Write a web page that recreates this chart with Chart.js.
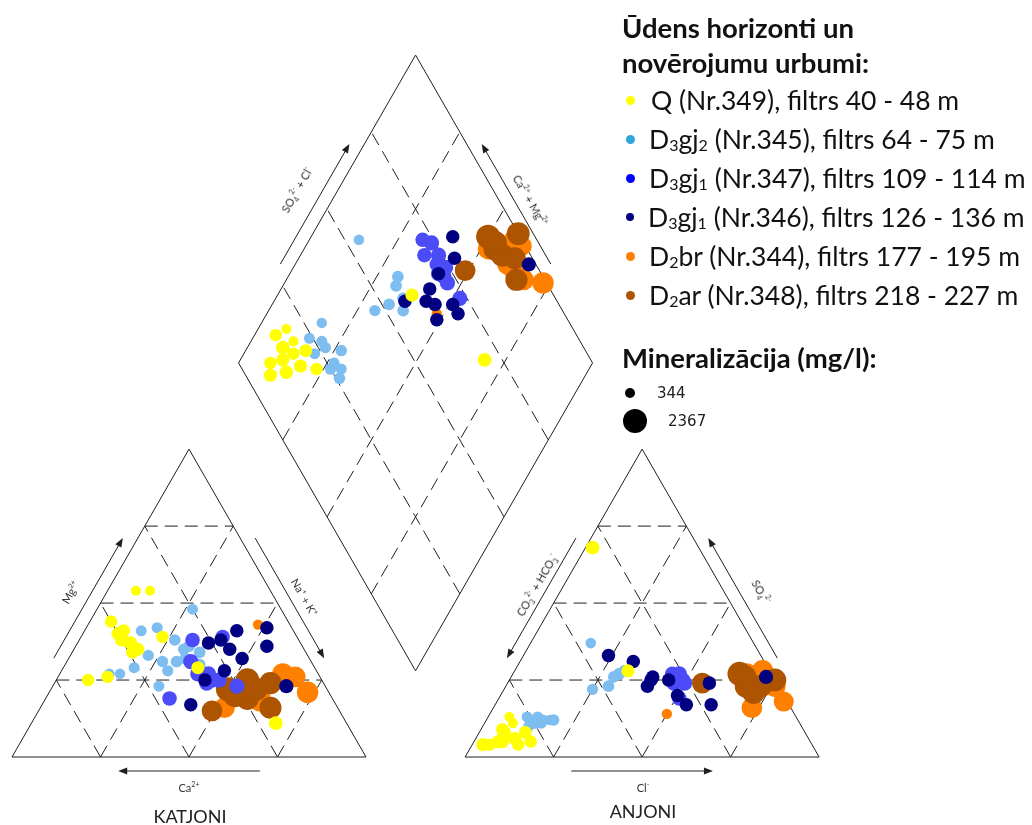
<!DOCTYPE html>
<html>
<head>
<meta charset="utf-8">
<script src="https://cdn.jsdelivr.net/npm/chart.js@4.4.1/dist/chart.umd.min.js"></script>
<style>
  html, body { margin: 0; padding: 0; background: #fff; }
  #wrap { position: relative; width: 1032px; height: 825px; overflow: hidden; font-family: Lato, "Open Sans", sans-serif; color: #111; }
  #piper { position: absolute; left: 0; top: 0; }
  .axis-label { position: absolute; transform: translate(-50%, -50%) rotate(var(--rot, 0deg)); white-space: nowrap; font-size: 11px; color: #333; }
  .axis-label sup, .axis-label sub { font-size: 7px; }
  .panel-title { position: absolute; transform: translate(-50%, -50%); font-size: 18px; color: #222; }
  .legend-title { position: absolute; left: 622px; font-weight: 700; font-size: 27.5px; line-height: 35px; white-space: nowrap; }
  .legend-item { position: absolute; left: 626px; transform: translateY(-50%); font-size: 26.5px; white-space: nowrap; display: flex; align-items: center; }
  .legend-item small { font-size: 16px; position: relative; top: 2px; }
  .legend-dot { display: inline-block; border-radius: 50%; }
  .size-item { position: absolute; transform: translateY(-50%); font-family: "DejaVu Sans", sans-serif; font-size: 15px; color: #222; }
</style>
</head>
<body>
<div id="wrap">
  <canvas id="piper" width="1032" height="825"></canvas>
</div>
<script>
// Piper diagram, values in % of meq/l.
// One row per sample: [Mg, Na+K, SO4, Cl, mineralization mg/l]
// (Ca = 100 - Mg - NaK, HCO3 + CO3 = 100 - SO4 - Cl)
const wellQ349 = [
  [54, 8, 11, 8, 344], [54, 12, 13, 6, 344], [44, 6, 9, 6, 700], [40, 10, 8, 7, 850],
  [41, 11, 4, 3, 800], [37, 15, 5, 7, 850], [35, 18, 6, 11, 800], [34, 17, 8, 13, 750],
  [39, 23, 5, 16, 700], [25, 9, 4, 5, 700], [26, 14, 4, 13, 700], [38, 12, 5, 8, 800],
  [29, 38, 28, 32, 800], [11, 69, 68, 2, 900],
];
const wellD3gj2_345 = [
  [27, 14, 37, 17, 430], [48, 27, 12, 15, 480], [41, 16, 13, 11, 480], [42, 20, 13, 14, 500],
  [33, 22, 11, 16, 520], [29, 20, 10, 13, 480], [27, 17, 12, 18, 420], [38, 27, 12, 19, 560],
  [31, 27, 11, 14, 560], [23, 30, 12, 16, 500], [35, 31, 12, 14, 560], [32, 33, 23, 29, 600],
  [36, 32, 27, 30, 600], [31, 31, 28, 31, 600], [28, 30, 22, 25, 520], [34, 36, 27, 30, 600],
  [30, 38, 26, 29, 600],
];
const wellD3gj1_347 = [
  [38, 32, 27, 45, 1000], [39, 40, 26, 46, 1000], [31, 35, 27, 47, 1100], [27, 39, 25, 49, 1100],
  [27, 42, 24, 47, 1100], [25, 44, 26, 46, 1100], [24, 43, 24, 50, 1100], [25, 46, 25, 47, 1100],
  [19, 35, 19, 51, 1000], [23, 52, 25, 48, 1100],
];
const wellD3gj1_346 = [
  [37, 37, 33, 24, 850], [41, 43, 31, 32, 850], [42, 51, 25, 45, 850], [36, 54, 20, 50, 850],
  [32, 49, 23, 40, 850], [28, 46, 25, 40, 850], [25, 42, 26, 40, 850], [17, 42, 17, 54, 850],
  [23, 66, 26, 72, 950], [38, 40, 24, 57, 850], [35, 44, 17, 61, 850],
];
const wellD2br_344 = [
  [43, 48, 14, 50, 400], [27, 63, 27, 66, 2000], [21, 73, 23, 76, 2000], [16, 52, 16, 73, 1900],
  [18, 61, 18, 81, 1800], [22, 58, 28, 70, 2000], [26, 67, 26, 68, 1900], [20, 60, 22, 70, 1900],
];
const wellD2ar_348 = [
  [22, 50, 27, 64, 2367], [25, 54, 23, 68, 2300], [19, 57, 21, 71, 2200], [24, 61, 23, 72, 2100],
  [16, 65, 21, 71, 2100], [15, 49, 24, 55, 1900], [22, 58, 25, 75, 2200], [20, 53, 26, 66, 2300],
];

const wellSamples = [wellQ349, wellD3gj2_345, wellD3gj1_347, wellD3gj1_346, wellD2br_344, wellD2ar_348];
const wellLabels = [
  "Q (Nr.349), filtrs 40 - 48 m",
  "D<small>3</small>gj<small>2</small> (Nr.345), filtrs 64 - 75 m",
  "D<small>3</small>gj<small>1</small> (Nr.347), filtrs 109 - 114 m",
  "D<small>3</small>gj<small>1</small> (Nr.346), filtrs 126 - 136 m",
  "D<small>2</small>br (Nr.344), filtrs 177 - 195 m",
  "D<small>2</small>ar (Nr.348), filtrs 218 - 227 m",
];
const wellColors = ["#ffff00", "#7dbdf0", "#4b4bf7", "#000080", "#ff8000", "#ad5400"];
const legendColors = ["#ffff00", "#2ea7dc", "#0000ff", "#000080", "#ff8000", "#ad5400"];
const drawOrder = [0, 3, 2, 1, 5, 4]; // lower = drawn on top

const sizeLegendValues = [344, 2367];
const gridSteps = [25, 50, 75];

// geometry of the diagram (triangle side = 100 units)
const SIDE = 100;
const GAP = 28;
const TRI_H = SIDE * Math.sqrt(3) / 2;

function cationXY(mg, nak) {
  return { x: nak + mg / 2, y: mg * TRI_H / SIDE };
}

function anionXY(so4, cl) {
  return { x: SIDE + GAP + cl + so4 / 2, y: so4 * TRI_H / SIDE };
}

function diamondXY(camg, sc) {
  const bx = SIDE + GAP / 2;
  const by = GAP * TRI_H / SIDE;
  return { x: bx + (sc - camg) / 2, y: by + (sc + camg) * TRI_H / SIDE };
}

function radiusFor(tds) {
  return 5 + (tds - 344) * 7 / (2367 - 344);
}

function samplePoints(rows) {
  const points = [];
  rows.forEach(([mg, nak, so4, cl, tds]) => {
    points.push({ ...cationXY(mg, nak), tds });
    points.push({ ...anionXY(so4, cl), tds });
    points.push({ ...diamondXY(100 - nak, so4 + cl), tds });
  });
  return points;
}

const frameLines = [
  // outlines
  [cationXY(0, 0), cationXY(0, 100)], [cationXY(0, 100), cationXY(100, 0)], [cationXY(100, 0), cationXY(0, 0)],
  [anionXY(0, 0), anionXY(0, 100)], [anionXY(0, 100), anionXY(100, 0)], [anionXY(100, 0), anionXY(0, 0)],
  [diamondXY(0, 0), diamondXY(100, 0)], [diamondXY(100, 0), diamondXY(100, 100)],
  [diamondXY(100, 100), diamondXY(0, 100)], [diamondXY(0, 100), diamondXY(0, 0)],
];

const gridLines = [];
gridSteps.forEach((k) => {
  gridLines.push([cationXY(k, 0), cationXY(k, 100 - k)]);
  gridLines.push([cationXY(0, k), cationXY(100 - k, k)]);
  gridLines.push([cationXY(0, 100 - k), cationXY(100 - k, 0)]);
  gridLines.push([anionXY(k, 0), anionXY(k, 100 - k)]);
  gridLines.push([anionXY(0, k), anionXY(100 - k, k)]);
  gridLines.push([anionXY(0, 100 - k), anionXY(100 - k, 0)]);
  gridLines.push([diamondXY(k, 0), diamondXY(k, 100)]);
  gridLines.push([diamondXY(0, k), diamondXY(100, k)]);
});

const OUT_LEFT = [-11.3, -6.5];
const OUT_RIGHT = [11.3, -6.5];
const OUT_BASE = [0, 14];
const axisArrows = [
  { from: cationXY(30, 0), to: cationXY(69, 0), off: OUT_LEFT },
  { from: cationXY(69, 31), to: cationXY(30, 70), off: OUT_RIGHT },
  { from: cationXY(0, 70), to: cationXY(0, 30), off: OUT_BASE },
  { from: anionXY(69, 0), to: anionXY(30, 0), off: OUT_LEFT },
  { from: anionXY(30, 70), to: anionXY(69, 31), off: OUT_RIGHT },
  { from: anionXY(0, 30), to: anionXY(0, 70), off: OUT_BASE },
  { from: diamondXY(100, 30), to: diamondXY(100, 69), off: OUT_LEFT },
  { from: diamondXY(30, 100), to: diamondXY(69, 100), off: OUT_RIGHT },
];

const piperFramePlugin = {
  id: "piperFrame",
  beforeDatasetsDraw(chart) {
    const { ctx } = chart;
    const xs = chart.scales.x;
    const ys = chart.scales.y;
    const px = (p) => [xs.getPixelForValue(p.x), ys.getPixelForValue(p.y)];

    ctx.save();
    ctx.strokeStyle = "#1e1e1e";
    ctx.lineWidth = 1;

    ctx.setLineDash([13, 7]);
    gridLines.forEach(([a, b]) => {
      const [x1, y1] = px(a);
      const [x2, y2] = px(b);
      ctx.beginPath();
      ctx.moveTo(x1, y1);
      ctx.lineTo(x2, y2);
      ctx.stroke();
    });

    ctx.setLineDash([]);
    frameLines.forEach(([a, b]) => {
      const [x1, y1] = px(a);
      const [x2, y2] = px(b);
      ctx.beginPath();
      ctx.moveTo(x1, y1);
      ctx.lineTo(x2, y2);
      ctx.stroke();
    });

    ctx.fillStyle = "#1e1e1e";
    axisArrows.forEach((arrow) => {
      const [ax, ay] = px(arrow.from);
      const [bx, by] = px(arrow.to);
      const x1 = ax + arrow.off[0], y1 = ay + arrow.off[1];
      const x2 = bx + arrow.off[0], y2 = by + arrow.off[1];
      const len = Math.hypot(x2 - x1, y2 - y1);
      const ux = (x2 - x1) / len, uy = (y2 - y1) / len;
      ctx.beginPath();
      ctx.moveTo(x1, y1);
      ctx.lineTo(x2 - ux * 6, y2 - uy * 6);
      ctx.stroke();
      ctx.beginPath();
      ctx.moveTo(x2, y2);
      ctx.lineTo(x2 - ux * 9 - uy * 3.5, y2 - uy * 9 + ux * 3.5);
      ctx.lineTo(x2 - ux * 9 + uy * 3.5, y2 - uy * 9 - ux * 3.5);
      ctx.closePath();
      ctx.fill();
    });
    ctx.restore();
  },
};

const PX_X = 3.54;
const PX_Y = 3.555;
const ORIGIN_X = 12;
const ORIGIN_Y = 757;
const canvas = document.getElementById("piper");
const xMin = -ORIGIN_X / PX_X;
const xMax = (canvas.width - ORIGIN_X) / PX_X;
const yMin = -(canvas.height - ORIGIN_Y) / PX_Y;
const yMax = ORIGIN_Y / PX_Y;

const datasets = wellSamples.map((rows, i) => ({
  label: wellLabels[i],
  data: samplePoints(rows),
  backgroundColor: wellColors[i],
  borderWidth: 0,
  pointRadius: (c) => radiusFor(c.raw.tds),
  pointHoverRadius: (c) => radiusFor(c.raw.tds),
  order: drawOrder[i],
  clip: false,
}));

new Chart(canvas.getContext("2d"), {
  type: "scatter",
  data: { datasets },
  options: {
    responsive: false,
    animation: false,
    devicePixelRatio: 1,
    events: [],
    layout: { padding: 0, autoPadding: false },
    plugins: { legend: { display: false }, tooltip: { enabled: false } },
    scales: {
      x: {
        type: "linear", display: false, bounds: "data", min: xMin, max: xMax,
        afterDataLimits: (s) => { s.min = xMin; s.max = xMax; },
        afterBuildTicks: (s) => { s.min = xMin; s.max = xMax; },
      },
      y: {
        type: "linear", display: false, bounds: "data", min: yMin, max: yMax,
        afterDataLimits: (s) => { s.min = yMin; s.max = yMax; },
        afterBuildTicks: (s) => { s.min = yMin; s.max = yMax; },
      },
    },
  },
  plugins: [piperFramePlugin],
});

// text around the diagram
const wrap = document.getElementById("wrap");
function addLabel(html, x, y, rot, cls = "axis-label") {
  const el = document.createElement("div");
  el.className = cls;
  el.innerHTML = html;
  el.style.left = x + "px";
  el.style.top = y + "px";
  if (rot) el.style.setProperty("--rot", rot + "deg");
  wrap.appendChild(el);
}

addLabel("Mg<sup>2+</sup>", 70, 592, -60);
addLabel("Na<sup>+</sup> + K<sup>+</sup>", 305, 597, 60);
addLabel("Ca<sup>2+</sup>", 189, 787, 0);
addLabel("KATJONI", 190, 816, 0, "panel-title");
addLabel("CO<sub>3</sub><sup>2-</sup> + HCO<sub>3</sub><sup>-</sup>", 537, 585, -60);
addLabel("SO<sub>4</sub><sup>2-</sup>", 761, 592, 60);
addLabel("Cl<sup>-</sup>", 643, 787, 0);
addLabel("ANJONI", 643, 811, 0, "panel-title");
addLabel("SO<sub>4</sub><sup>2-</sup> + Cl<sup>-</sup>", 297, 190, -60);
addLabel("Ca<sup>2+</sup> + Mg<sup>2+</sup>", 531, 200, 60);

const title = document.createElement("div");
title.className = "legend-title";
title.style.top = "10px";
title.innerHTML = "Ūdens horizonti un<br>novērojumu urbumi:";
wrap.appendChild(title);

wellLabels.forEach((label, i) => {
  const item = document.createElement("div");
  item.className = "legend-item";
  item.style.top = (100 + i * 39) + "px";
  const d = i === 3 ? 8 : 9;
  item.innerHTML = `<span class="legend-dot" style="width:${d}px;height:${d}px;background:${legendColors[i]}"></span>` +
    `<span style="margin-left:${i === 0 ? 16 : 14}px">${label}</span>`;
  wrap.appendChild(item);
});

const minTitle = document.createElement("div");
minTitle.className = "legend-title";
minTitle.style.top = "340px";
minTitle.textContent = "Mineralizācija (mg/l):";
wrap.appendChild(minTitle);

sizeLegendValues.forEach((value, i) => {
  const r = radiusFor(value);
  const cy = i === 0 ? 393 : 421;
  const dot = document.createElement("span");
  dot.className = "legend-dot";
  dot.style.cssText = `position:absolute;background:#000;width:${2 * r}px;height:${2 * r}px;left:${(i === 0 ? 630 : 635) - r}px;top:${cy - r}px`;
  wrap.appendChild(dot);
  const txt = document.createElement("div");
  txt.className = "size-item";
  txt.style.left = (i === 0 ? 657 : 668) + "px";
  txt.style.top = cy + "px";
  txt.textContent = String(value);
  wrap.appendChild(txt);
});
</script>
</body>
</html>
